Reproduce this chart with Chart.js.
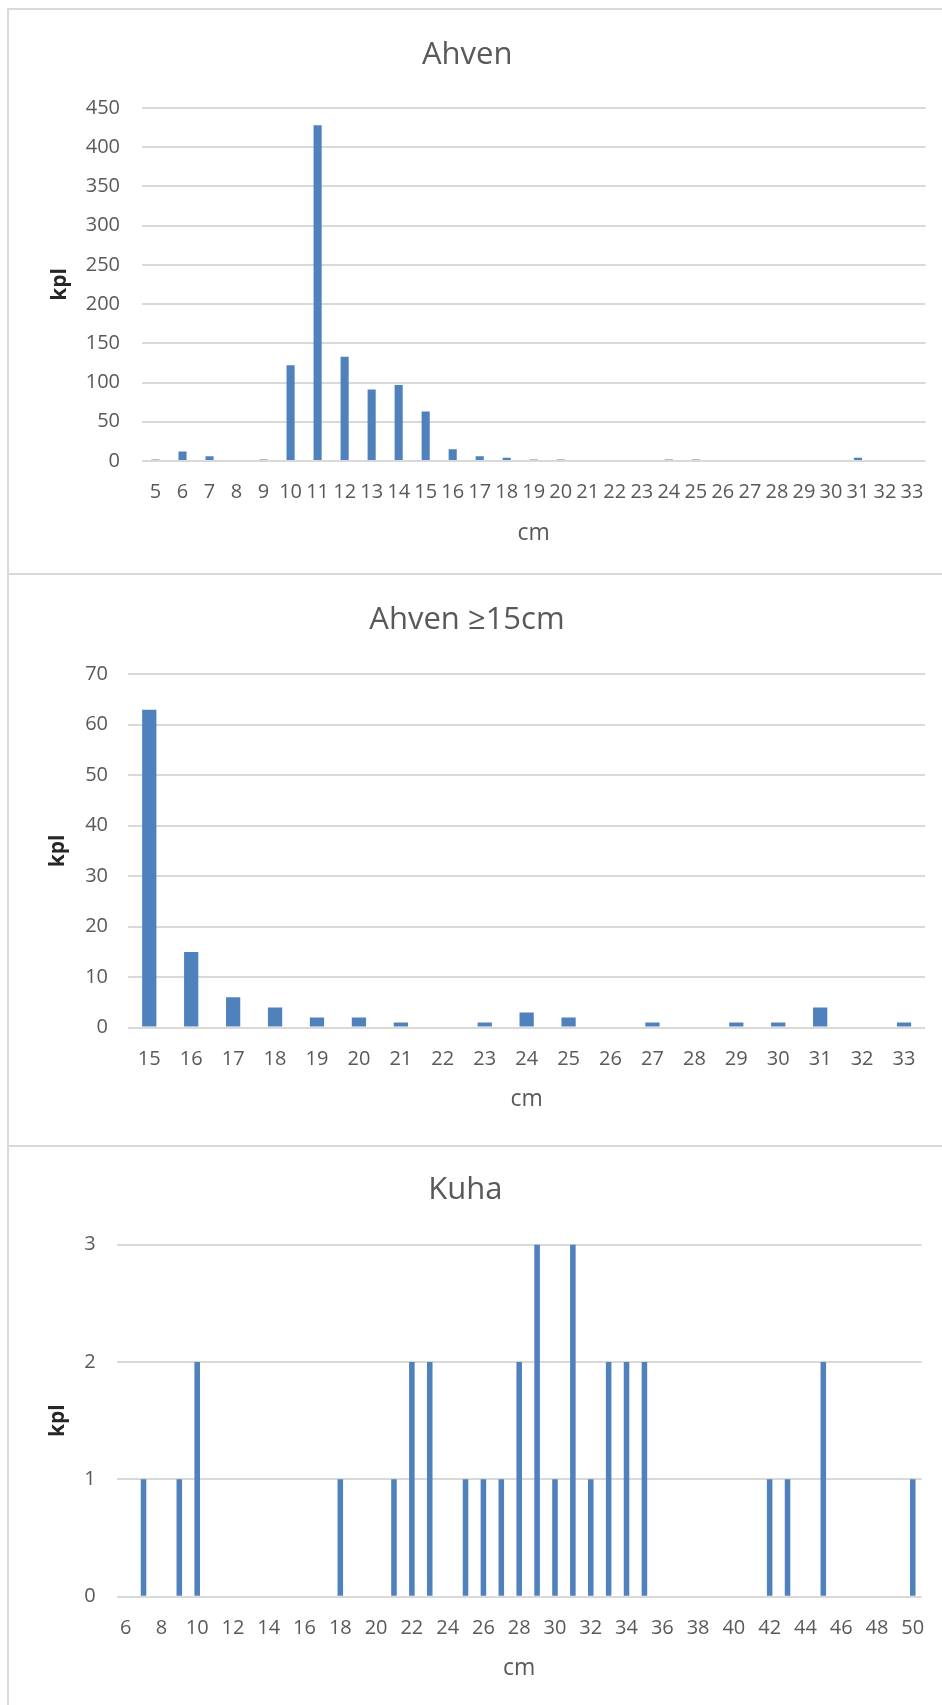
<!DOCTYPE html>
<html>
<head>
<meta charset="utf-8">
<script src="https://cdn.jsdelivr.net/npm/chart.js@4.4.1/dist/chart.umd.min.js"></script>
<style>
body{margin:0;background:#fff;width:942px;height:1705px;overflow:hidden;position:relative}
.box{position:absolute;left:7px;width:990px;box-sizing:border-box;border:2px solid #d9d9d9}
canvas{position:absolute;left:9px}
</style>
</head>
<body>
<div class="box" style="top:8px;height:567px"></div>
<div class="box" style="top:573px;height:574px"></div>
<div class="box" style="top:1145px;height:620px"></div>
<canvas id="ahvenChart" width="942" height="560" style="top:11px"></canvas>
<canvas id="ahven15Chart" width="942" height="568" style="top:576px"></canvas>
<canvas id="kuhaChart" width="942" height="558" style="top:1147px"></canvas>
<script>
// ===================== DATA =====================
const ahvenCm=[5,6,7,8,9,10,11,12,13,14,15,16,17,18,19,20,21,22,23,24,25,26,27,28,29,30,31,32,33];
const ahvenKpl=[2,12,6,0,2,122,428,133,91,97,63,15,6,4,2,2,0,0,0,2,2,0,0,0,0,0,4,0,0];

const ahven15Cm=[15,16,17,18,19,20,21,22,23,24,25,26,27,28,29,30,31,32,33];
const ahven15Kpl=[63,15,6,4,2,2,1,0,1,3,2,0,1,0,1,1,4,0,1];

const kuhaCm=[6,7,8,9,10,11,12,13,14,15,16,17,18,19,20,21,22,23,24,25,26,27,28,29,30,31,32,33,34,35,36,37,38,39,40,41,42,43,44,45,46,47,48,49,50];
const kuhaKpl=[0,1,0,1,2, 0,0,0,0,0,0,0, 1,0,0,1,2,2,0,1,1,1,2,3,1,3,1,2,2,2, 0,0,0,0,0,0, 1,1,0,2, 0,0,0,0, 1];

const yMaxAhven=450, yStepAhven=50;
const yMaxAhven15=70, yStepAhven15=10;
const yMaxKuha=3, yStepKuha=1;

// ===================== STYLE =====================
const FONT='"Open Sans", "Liberation Sans", sans-serif';
const GREY='#595959';
const GRID='#d9d9d9';
const BLUE='#4f81bd';

function makeChart(id,title,cats,vals,g,xCallback){
  const lhT=31*1.2, lhA=23*1.2, lhK=21*1.2;
  return new Chart(document.getElementById(id),{type:'bar',
    data:{labels:cats,datasets:[{data:vals,backgroundColor:BLUE,barPercentage:g.bar,categoryPercentage:1}]},
    options:{responsive:false,animation:false,
      layout:{padding:{left:0,top:0,bottom:0,right:942-g.R}},
      plugins:{legend:{display:false},tooltip:{enabled:false},
        title:{display:true,text:title,color:GREY,font:{family:FONT,size:31,weight:'normal'},
          padding:{top:g.titleY-lhT/2,bottom:g.T-g.titleY-lhT/2}}},
      scales:{
        x:{grid:{display:false,drawTicks:false},border:{display:false},
          ticks:{color:GREY,font:{family:FONT,size:20},padding:g.xPad,autoSkip:false,maxRotation:0,minRotation:0,
            callback:xCallback||function(v){return this.getLabelForValue(v);}},
          title:{display:true,text:'cm',color:GREY,font:{family:FONT,size:23},padding:{top:0,bottom:g.H-g.cmY-lhA/2}},
          afterFit:s=>{s.height=g.H-g.B;}},
        y:{min:0,max:g.max,grid:{color:GRID,lineWidth:2,drawTicks:false},border:{display:false},
          ticks:{stepSize:g.step,color:GREY,font:{family:FONT,size:20},padding:g.yPad},
          title:{display:true,text:'kpl',color:'#262626',font:{family:FONT,size:21,weight:'bold'},padding:{top:g.kplX-lhK/2,bottom:0}},
          afterFit:s=>{s.width=g.L;}}
      }}
  });
}

makeChart('ahvenChart','Ahven',ahvenCm,ahvenKpl,
  {H:560,T:97,B:450,L:133,R:916.5,titleY:44,kplX:51,cmY:522,xPad:19,yPad:22,bar:0.30,max:yMaxAhven,step:yStepAhven});

makeChart('ahven15Chart','Ahven ≥15cm',ahven15Cm,ahven15Kpl,
  {H:568,T:98.3,B:451.6,L:119.3,R:916,titleY:44,kplX:49,cmY:523,xPad:19.4,yPad:20.3,bar:0.34,max:yMaxAhven15,step:yStepAhven15});

makeChart('kuhaChart','Kuha',kuhaCm,kuhaKpl,
  {H:558,T:97.5,B:449.7,L:107.7,R:912.7,titleY:43,kplX:49,cmY:521,xPad:19.3,yPad:21,bar:0.31,max:yMaxKuha,step:yStepKuha},
  function(v){const c=this.getLabelForValue(v);return c%2===0?c:'';});
</script>
</body>
</html>
